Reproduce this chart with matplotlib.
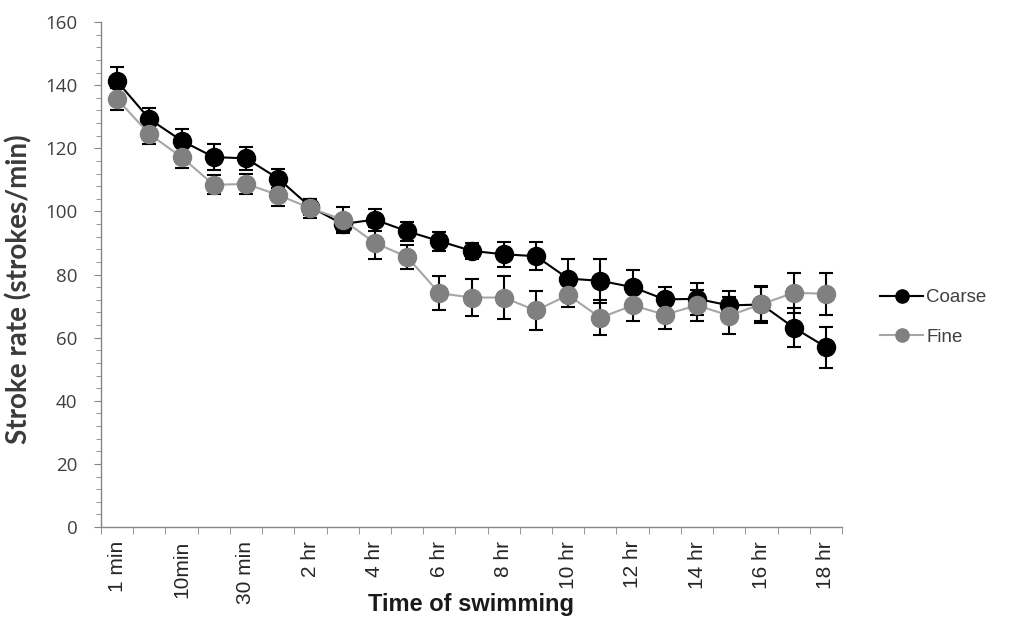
import matplotlib
matplotlib.use("Agg")
import matplotlib.pyplot as plt
from matplotlib.lines import Line2D
import numpy as np

tick_labels = ["1 min", "10min", "30 min", "2 hr", "4 hr", "6 hr", "8 hr",
               "10 hr", "12 hr", "14 hr", "16 hr", "18 hr"]

coarse = [141.2, 129.3, 122.4, 117.2, 116.8, 110.4, 101.4, 96.0, 97.4, 93.7,
          90.6, 87.5, 86.4, 85.8, 78.7, 78.0, 76.0, 72.1, 72.3, 70.2, 70.5, 63.2, 57.0]
coarse_err = [4.5, 3.5, 3.7, 4.0, 3.6, 3.0, 2.5, 3.0, 3.5, 3.0, 3.0, 2.5, 4.0,
              4.5, 6.2, 7.0, 5.3, 4.0, 5.0, 4.5, 6.0, 6.2, 6.5]
fine = [135.6, 124.5, 117.2, 108.4, 108.7, 105.2, 101.0, 97.4, 90.0, 85.6,
        74.1, 72.7, 72.7, 68.6, 73.5, 66.3, 70.2, 67.3, 70.2, 67.0, 70.6, 74.2, 73.9]
fine_err = [3.5, 3.3, 3.6, 3.0, 3.2, 3.4, 3.0, 4.0, 5.0, 3.7, 5.3, 6.0, 6.8,
            6.3, 3.8, 5.5, 5.0, 4.5, 5.0, 6.0, 5.3, 6.4, 6.6]

x = np.arange(len(coarse))

fig = plt.figure(figsize=(10.1, 6.22), dpi=100)
ax = fig.add_axes([101/1010, 95/622, 741/1010, 505/622])

fine_line = "#a6a6a6"
fine_marker = "#808080"

ax.errorbar(x, coarse, yerr=coarse_err, color="black", ecolor="black",
            marker="o", markersize=13, linewidth=1.5, elinewidth=1.5,
            capsize=4.8, capthick=1.5, zorder=3)
ax.errorbar(x, fine, yerr=fine_err, color=fine_line, ecolor="black",
            marker="o", markersize=13, markerfacecolor=fine_marker,
            markeredgecolor=fine_marker, linewidth=1.5, elinewidth=1.5,
            capsize=4.8, capthick=1.5, zorder=4)

ax.set_xlim(-0.5, len(coarse) - 0.5)
ax.set_ylim(0, 160)

for s in ["top", "right"]:
    ax.spines[s].set_visible(False)
for s in ["left", "bottom"]:
    ax.spines[s].set_color("#868686")
    ax.spines[s].set_linewidth(1.0)

ax.set_yticks(np.arange(0, 161, 20))
ax.set_yticks(np.arange(0, 161, 4), minor=True)
ax.tick_params(axis="y", which="major", direction="out", length=5,
               color="#868686", labelcolor="#404040", labelsize=13.5, pad=12)
ax.tick_params(axis="y", which="minor", direction="out", length=3.5,
               color="#868686")
for lbl in ax.get_yticklabels():
    lbl.set_fontfamily("Open Sans")

ax.set_xticks(np.arange(0, len(coarse), 2))
ax.set_xticklabels(tick_labels, rotation=90, fontfamily="Liberation Sans")
ax.set_xticks(np.arange(-0.5, len(coarse), 1), minor=True)
ax.tick_params(axis="x", which="major", length=0, labelcolor="#262626",
               labelsize=15, pad=10)
ax.tick_params(axis="x", which="minor", direction="out", length=5,
               color="#868686")

ax.set_xlabel("Time of swimming", fontsize=17, fontweight="bold",
              fontfamily="Liberation Sans", color="#1a1a1a")
ax.xaxis.set_label_coords(0.5, -0.131)
ax.set_ylabel("Stroke rate (strokes/min)", fontsize=20, fontweight="bold",
              fontfamily="Lato", color="#3a3a3a")
ax.yaxis.set_label_coords(-0.092, 0.47)

handles = [
    Line2D([], [], color="black", linewidth=1.5, marker="o", markersize=9.5,
           markerfacecolor="black", markeredgecolor="black"),
    Line2D([], [], color=fine_line, linewidth=1.5, marker="o", markersize=9.5,
           markerfacecolor=fine_marker, markeredgecolor=fine_marker),
]
leg = ax.legend(handles, ["Coarse", "Fine"], loc="center left",
                bbox_to_anchor=(1.029, 0.415), frameon=False,
                prop={"family": "Liberation Sans", "size": 13.5},
                handlelength=2.3, handletextpad=0.15, labelspacing=1.2)
for t in leg.get_texts():
    t.set_color("#404040")

fig.savefig("out.png", dpi=100)
